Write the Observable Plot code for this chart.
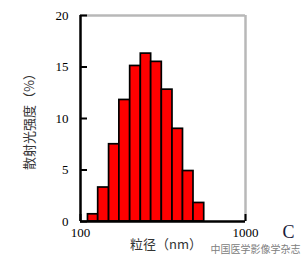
<!DOCTYPE html>
<html>
<head>
<meta charset="utf-8">
<script src="https://cdn.jsdelivr.net/npm/d3@7"></script>
<script src="https://cdn.jsdelivr.net/npm/@observablehq/plot@0.6"></script>
<style>
  html, body { margin: 0; padding: 0; background: #fff; }
</style>
</head>
<body>
<div id="chart"></div>
<script>
// Bin edges (nm), log-spaced
const binStart = [111, 128, 149, 172, 200, 232, 268, 311, 361, 418, 484];
const binEnd   = [128, 149, 172, 200, 232, 268, 311, 361, 418, 484, 562];
// Scattered light intensity (%)
const intensity = [0.7, 3.3, 7.5, 11.8, 15.1, 16.3, 15.5, 12.8, 9.0, 4.9, 1.8];
const yTicks = [0, 5, 10, 15, 20];
const xTicks = [100, 1000];
const yLabel = "散射光强度（%）";
const xLabel = "粒径（nm）";
const panelTag = "C";
const watermark = "中国医学影像学杂志";

const bins = intensity.map((v, i) => ({x1: binStart[i], x2: binEnd[i], y: v}));

const serif = "'Liberation Serif', 'DejaVu Serif', serif";
const cjk = "'Noto Sans CJK SC', sans-serif";

const chart = Plot.plot({
  width: 308,
  height: 267,
  marginLeft: 80,
  marginRight: 63,
  marginTop: 15,
  marginBottom: 46,
  style: {fontFamily: serif, fontSize: "13px", color: "#000", background: "#fff"},
  x: {type: "log", domain: [100, 1000]},
  y: {domain: [0, 20]},
  marks: [
    Plot.rectY(bins, {x1: "x1", x2: "x2", y: "y", fill: "#ff0000", stroke: "#000", strokeWidth: 1.7}),
    // gray top/right frame
    Plot.ruleY([20], {stroke: "#b8b8b8", strokeWidth: 2.5}),
    Plot.ruleX([1000], {stroke: "#b8b8b8", strokeWidth: 2.5}),
    // black left/bottom axes
    Plot.ruleX([100], {stroke: "#000", strokeWidth: 2.5}),
    Plot.ruleY([0], {stroke: "#000", strokeWidth: 2.5}),
    // inward ticks
    Plot.tickY(yTicks, {stroke: "#000", strokeWidth: 2, insetRight: 158}),
    Plot.tickX(xTicks, {stroke: "#000", strokeWidth: 2, insetTop: 199}),
    Plot.axisY({ticks: yTicks, tickSize: 0, tickPadding: 12, label: null, fontSize: 13}),
    Plot.axisX({ticks: xTicks, tickSize: 0, tickPadding: 6, label: null, tickFormat: d => String(d), fontSize: 13}),
    Plot.text([yLabel], {frameAnchor: "left", dx: -51, rotate: -90, textAnchor: "middle", fontFamily: cjk, fontSize: 13, fill: "#333"}),
    Plot.text([xLabel], {frameAnchor: "bottom", dx: 3, dy: 27, textAnchor: "middle", fontFamily: cjk, fontSize: 13, fill: "#333"}),
    Plot.text([panelTag], {frameAnchor: "bottom-right", dx: 43, dy: 16, textAnchor: "middle", fontFamily: serif, fontSize: 18, fill: "#1a1a3a"}),
    Plot.text([watermark], {frameAnchor: "bottom-right", dx: 55, dy: 31, textAnchor: "end", fontFamily: cjk, fontSize: 10, fill: "#808080"})
  ]
});
document.getElementById("chart").appendChild(chart);
</script>
</body>
</html>
